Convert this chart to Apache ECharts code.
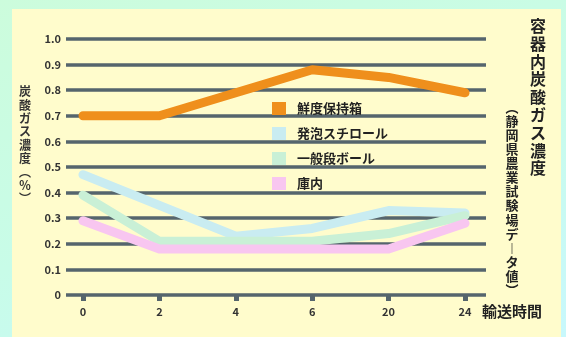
<!DOCTYPE html>
<html>
<head>
<meta charset="utf-8">
<script src="https://cdn.jsdelivr.net/npm/echarts@6/dist/echarts.min.js"></script>
<style>
  html, body { margin: 0; padding: 0; }
  body { width: 566px; height: 337px; background: linear-gradient(160deg, #ccfcdc 0%, #c8fce8 50%, #c8f8fc 100%); position: relative; overflow: hidden; }
  #panel { position: absolute; left: 12px; top: 9px; width: 549px; height: 328px; background: #fffccc; }
  #chart { position: absolute; left: 0; top: 0; width: 566px; height: 337px; }
</style>
</head>
<body>
<div id="panel"></div>
<div id="chart"></div>
<script>
// 輸送時間
var categories = ['0', '2', '4', '6', '20', '24'];
var yTickLabels = ['0', '0.1', '0.2', '0.3', '0.4', '0.5', '0.6', '0.7', '0.8', '0.9', '1.0'];

var seriesNames = ['鮮度保持箱', '発泡スチロール', '一般段ボール', '庫内'];
var freshBox = [0.70, 0.70, 0.79, 0.88, 0.85, 0.79];
var styrofoam = [0.47, 0.35, 0.23, 0.26, 0.33, 0.32];
var cardboard = [0.39, 0.21, 0.21, 0.21, 0.24, 0.31];
var storage = [0.29, 0.18, 0.18, 0.18, 0.18, 0.28];

var colors = ['#ef8f1c', '#c9ecf1', '#c9f0d6', '#f8c6f0'];
var font = '"Noto Sans CJK JP", "Noto Sans CJK SC", sans-serif';

function makeLine(name, data, color, z) {
  return {
    name: name,
    type: 'line',
    xAxisIndex: 1,
    yAxisIndex: 1,
    data: data,
    color: color,
    showSymbol: false,
    symbol: 'none',
    z: z,
    lineStyle: { width: 9, color: color, cap: 'round', join: 'round' }
  };
}

var chart = echarts.init(document.getElementById('chart'));

var option = {
  backgroundColor: 'transparent',
  animation: false,
  grid: [
    { left: 66, right: 80, top: 39, bottom: 42 },
    { left: 83, right: 101, top: 39, bottom: 42 }
  ],
  xAxis: [
    { type: 'value', gridIndex: 0, show: false, min: 0, max: 1 },
    {
      type: 'category',
      gridIndex: 1,
      data: categories,
      boundaryGap: false,
      axisLine: { show: false },
      axisTick: { show: true, length: 6, lineStyle: { color: '#55656d', width: 5 } },
      axisLabel: { color: '#333', fontSize: 11, fontWeight: 'bold', fontFamily: font, margin: 11 }
    }
  ],
  yAxis: [
    {
      type: 'value',
      gridIndex: 0,
      min: 0,
      max: 1,
      interval: 0.1,
      axisLine: { show: false },
      axisTick: { show: false },
      splitLine: { show: true, lineStyle: { color: '#55656d', width: 3.5 } },
      axisLabel: {
        color: '#333', fontSize: 11, fontWeight: 'bold', fontFamily: font, margin: 5,
        formatter: function (v) { return yTickLabels[Math.round(v * 10)]; }
      }
    },
    { type: 'value', gridIndex: 1, min: 0, max: 1, show: false }
  ],
  legend: {
    orient: 'vertical',
    left: 267,
    top: 97,
    icon: 'rect',
    itemWidth: 14,
    itemHeight: 13,
    itemGap: 12,
    data: seriesNames,
    textStyle: { color: '#222', fontSize: 13, fontWeight: 'bold', fontFamily: font, padding: [0, 0, 0, 6] }
  },
  graphic: [
    {
      type: 'text', x: 25, y: 85,
      style: { text: '炭\n酸\nガ\nス\n濃\n度\n︵\n％\n︶', fill: '#333', font: 'bold 12px ' + font, textAlign: 'center', lineHeight: 13.4 }
    },
    {
      type: 'text', x: 538, y: 17,
      style: { text: '容\n器\n内\n炭\n酸\nガ\nス\n濃\n度', fill: '#222', font: 'bold 16px ' + font, textAlign: 'center', lineHeight: 17.8 }
    },
    {
      type: 'text', x: 512, y: 100,
      style: { text: '︵\n静\n岡\n県\n農\n業\n試\n験\n場\nデ\n︱\nタ\n値\n︶', fill: '#222', font: 'bold 13px ' + font, textAlign: 'center', lineHeight: 14.07 }
    },
    {
      type: 'text', x: 482, y: 304,
      style: { text: '輸送時間', fill: '#222', font: 'bold 15px ' + font, textAlign: 'left' }
    }
  ],
  series: [
    makeLine(seriesNames[1], styrofoam, colors[1], 2),
    makeLine(seriesNames[2], cardboard, colors[2], 3),
    makeLine(seriesNames[3], storage, colors[3], 4),
    makeLine(seriesNames[0], freshBox, colors[0], 5)
  ]
};

chart.setOption(option);
</script>
</body>
</html>
